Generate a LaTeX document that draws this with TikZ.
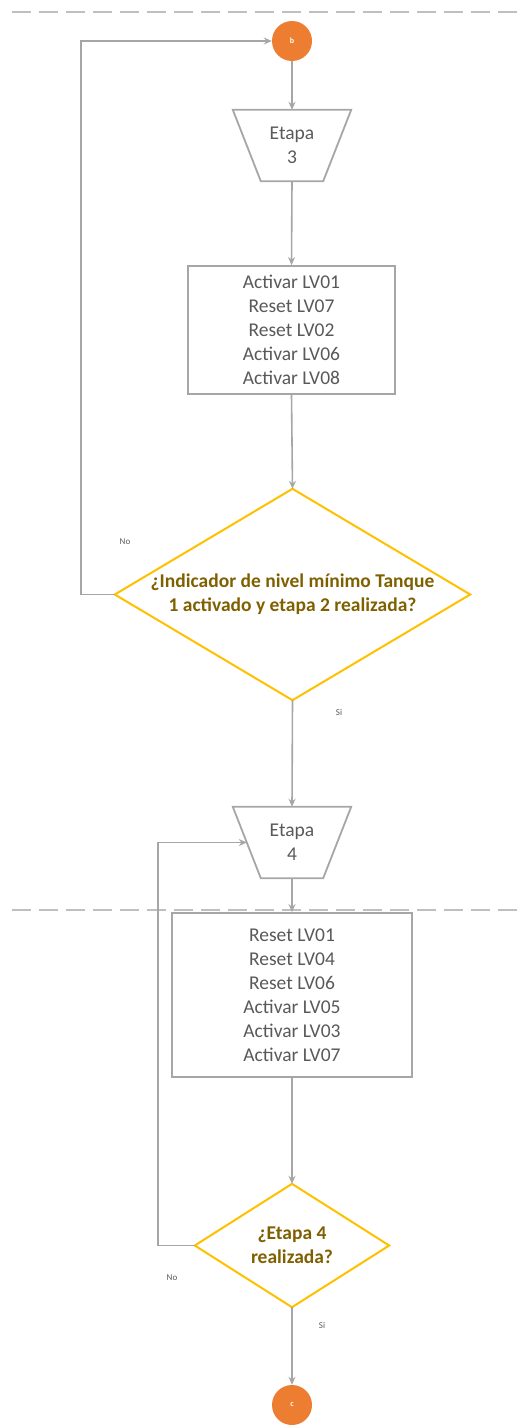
\documentclass[tikz,border=0pt]{standalone}
\usepackage{fontspec}
\setmainfont{Carlito}
\usetikzlibrary{arrows.meta}
\definecolor{linegray}{HTML}{A6A6A6}
\definecolor{dashgray}{HTML}{BFBFBF}
\definecolor{orangec}{HTML}{ED7D31}
\definecolor{gold}{HTML}{FFC000}
\definecolor{goldtext}{HTML}{7F6000}
\definecolor{txtgray}{HTML}{595959}
\begin{document}
\begin{tikzpicture}[x=1pt,y=-1pt,
  conn/.style={draw=linegray, line width=1.6pt, -{Stealth[length=8pt,width=7pt]}},
  dashline/.style={draw=dashgray, line width=1.8pt, dash pattern=on 19pt off 8pt},
  connector/.style={circle, fill=orangec, minimum size=40pt, inner sep=0pt,
    text=white, font=\fontsize{8}{9}\selectfont\bfseries},
  stagebox/.style={minimum width=118pt, minimum height=71pt, inner sep=0pt, align=center,
    text=txtgray, font=\fontsize{19.5}{24}\selectfont},
  actionbox/.style={draw=linegray, line width=1.8pt, fill=white, inner sep=0pt, align=center,
    text=txtgray, font=\fontsize{19.5}{24}\selectfont},
  decision/.style={inner sep=0pt, align=center, text=goldtext,
    font=\fontsize{19.5}{24}\selectfont\bfseries},
  answer/.style={text=txtgray, font=\fontsize{9}{10}\selectfont}
]
\useasboundingbox (0,0) rectangle (518,1426);

% section separators
\draw[dashline] (12,12) -- (518,12);
\draw[dashline] (12,910) -- (518,910);

% connector b
\node[connector] (b) at (292,41) {b};

% stage 3
\node[stagebox] (t1) at (292,145.5) {Etapa\\3};
\draw[linegray, line width=1.8pt] (t1.north west) -- (t1.north east)
  -- ([xshift=-28pt]t1.south east) -- ([xshift=28pt]t1.south west) -- cycle;

\node[actionbox, minimum width=207pt, minimum height=128pt] (r1) at (291.5,330)
  {Activar LV01\\Reset LV07\\Reset LV02\\Activar LV06\\Activar LV08};

% decision 1
\node[decision, minimum width=355pt, minimum height=211pt] (d1) at (292.5,594.5)
  {¿Indicador de nivel mínimo Tanque\\1 activado y etapa 2 realizada?};
\draw[gold, line width=2pt] (d1.north) -- (d1.east) -- (d1.south) -- (d1.west) -- cycle;

% stage 4
\node[stagebox] (t2) at (292,842.5) {Etapa\\4};
\draw[linegray, line width=1.8pt] (t2.north west) -- (t2.north east)
  -- ([xshift=-28pt]t2.south east) -- ([xshift=28pt]t2.south west) -- cycle;

\node[actionbox, minimum width=240pt, minimum height=164pt] (r2) at (292,995)
  {Reset LV01\\Reset LV04\\Reset LV06\\Activar LV05\\Activar LV03\\Activar LV07};

% decision 2
\node[decision, minimum width=194pt, minimum height=123pt] (d2) at (292,1245.5)
  {¿Etapa 4\\realizada?};
\draw[gold, line width=2pt] (d2.north) -- (d2.east) -- (d2.south) -- (d2.west) -- cycle;

% connector c
\node[connector] (c) at (292,1405) {c};

% main flow
\draw[conn] (b) -- (t1.north);
\draw[conn] (t1.south) -- (r1.north);
\draw[conn] (r1.south) -- (d1.north);
\draw[conn] (d1.south) -- (t2.north);
\draw[conn] (t2.south) -- (r2.north);
\draw[conn] (r2.south) -- (d2.north);
\draw[conn] (d2.south) -- (c.north);

% loops back
\draw[conn] (d1.west) -- ++(-34,0) |- (b.west);
\draw[conn] (d2.west) -- ++(-37,0) |- ([xshift=14pt]t2.west);

% answers
\node[answer] (no1) at (125,542) {No};
\node[answer] (si1) at (339,712) {Si};
\node[answer] (no2) at (172,1278) {No};
\node[answer] (si2) at (322,1325) {Si};
\end{tikzpicture}
\end{document}
